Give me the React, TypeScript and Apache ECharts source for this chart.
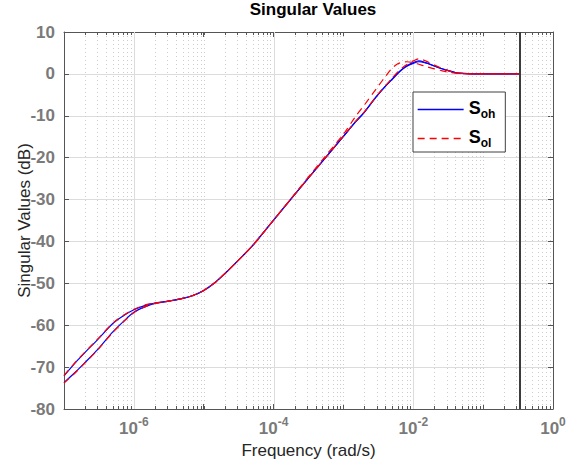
import React, { useEffect, useRef } from "react";
import * as echarts from "echarts";

// Frequency grid (rad/s) shared by every singular-value trace
const freq = [
  1e-7, 1.5e-7, 2e-7, 3e-7, 5e-7, 7e-7, 1e-6, 1.5e-6, 2e-6, 3e-6, 5e-6, 7e-6,
  1e-5, 1.5e-5, 2e-5, 3e-5, 5e-5, 1e-4, 2e-4, 5e-4, 1e-3, 1.5e-3, 2e-3, 3e-3,
  4e-3, 5e-3, 6e-3, 7e-3, 8e-3, 1e-2, 1.2e-2, 1.5e-2, 2e-2, 2.5e-2, 3e-2, 4e-2,
  5e-2, 7e-2, 0.1, 0.2, 0.326,
];

// S_oh, first and second singular value (dB)
const sohUpper = [
  -72.1, -68.7, -66.5, -63.5, -59.6, -57.8, -56.3, -55.2, -54.7, -54.3, -53.6, -52.9,
  -51.7, -49.6, -47.7, -44.8, -41.0, -34.9, -28.8, -20.9, -14.9, -11.4, -9.1, -5.3,
  -2.9, -1.2, 0.2, 1.2, 1.9, 2.7, 3.1, 2.7, 1.9, 1.3, 0.9, 0.3,
  0.1, 0.0, 0.0, 0.0, 0.0,
];
const sohLower = [
  -73.7, -71.0, -68.9, -65.9, -61.6, -59.2, -56.9, -55.5, -54.8, -54.3, -53.6, -52.9,
  -51.7, -49.6, -47.7, -44.8, -41.0, -34.9, -28.8, -20.9, -14.9, -11.4, -9.1, -5.3,
  -2.9, -1.3, 0.1, 1.1, 1.8, 2.5, 2.9, 2.6, 1.9, 1.3, 0.9, 0.3,
  0.1, 0.0, 0.0, 0.0, 0.0,
];

// S_ol, first and second singular value (dB)
const solUpper = [
  -72.0, -68.6, -66.4, -63.4, -59.5, -57.7, -56.2, -55.1, -54.7, -54.3, -53.6, -52.9,
  -51.7, -49.6, -47.7, -44.8, -41.0, -34.9, -28.8, -20.9, -14.8, -11.3, -9.0, -5.2,
  -2.8, -1.0, 0.5, 1.5, 2.2, 3.1, 3.6, 3.1, 2.1, 1.4, 0.9, 0.3,
  0.1, 0.0, 0.0, 0.0, 0.0,
];
const solLower = [
  -73.8, -71.1, -69.0, -66.0, -61.7, -59.3, -57.0, -55.5, -54.8, -54.3, -53.6, -52.9,
  -51.7, -49.6, -47.7, -44.8, -41.0, -34.9, -28.7, -20.5, -14.4, -10.1, -7.4, -3.4,
  -0.6, 1.4, 2.4, 2.8, 2.9, 2.7, 2.3, 1.8, 1.2, 0.8, 0.5, 0.2,
  0.1, 0.0, 0.0, 0.0, 0.0,
];

// Vertical marker frequency (rad/s)
const markerFreq = 0.326;

// Labelled decades on the frequency axis
const majorDecades = [1e-6, 1e-4, 1e-2];

const yTicks = { min: -80, max: 10, step: 10 };
const freqRange = { min: 1e-7, max: 1 };

const FONT = '"Liberation Sans", Arial, Helvetica, sans-serif';
const AXIS = "#555555";
const LABEL = "#7a7a7a";
const BLUE = "#0000ff";
const RED = "#ff0000";

function pairs(ys: number[]) {
  return freq.map((f, i) => [f, ys[i]]);
}

// minor log grid: 2..9 x 10^n plus the unlabelled odd decades
function minorPositions() {
  const out: number[] = [];
  for (let n = -7; n <= -1; n++) {
    for (let k = 1; k <= 9; k++) {
      if (k === 1 && (n % 2 === 0 || n === -7)) continue;
      out.push(k * Math.pow(10, n));
    }
  }
  return out;
}

export default function App() {
  const ref = useRef<HTMLDivElement>(null);

  useEffect(() => {
    if (!ref.current) return;
    const chart = echarts.init(ref.current, undefined, { renderer: "svg" });
    const minors = minorPositions();

    const xLabelRich = {
      b: { fontSize: 17, lineHeight: 16, fontWeight: "bold", color: LABEL, fontFamily: FONT, verticalAlign: "bottom" },
      e: { fontSize: 12, lineHeight: 12, fontWeight: "bold", color: LABEL, fontFamily: FONT, verticalAlign: "bottom", padding: [0, 0, 9, 0] },
    };

    const option: any = {
      animation: false,
      backgroundColor: "#ffffff",
      title: {
        text: "Singular Values",
        left: 308,
        top: -4,
        textAlign: "center",
        textStyle: { fontSize: 17, fontWeight: "bold", color: "#000", fontFamily: FONT },
      },
      grid: { left: 64, right: 33, top: 32, bottom: 59 },
      legend: {
        orient: "vertical",
        left: 413,
        top: 92,
        padding: [7, 10, 3, 4],
        itemGap: 8,
        itemWidth: 46,
        itemHeight: 2,
        itemStyle: { opacity: 0 },
        borderColor: "#404040",
        borderWidth: 1,
        backgroundColor: "#fff",
        data: [
          { name: "S_oh", lineStyle: { color: BLUE, width: 1.3 } },
          { name: "S_ol", lineStyle: { color: RED, width: 1.3, type: [7, 5] } },
        ],
        formatter: (name: string) =>
          name === "S_oh" ? "{s|S}{sub|oh}" : "{s|S}{sub|ol}",
        textStyle: {
          rich: {
            s: { fontSize: 18, fontWeight: "bold", color: "#000", fontFamily: FONT, verticalAlign: "top" },
            sub: { fontSize: 12, fontWeight: "bold", color: "#000", fontFamily: FONT, verticalAlign: "top", padding: [9, 0, 0, 0] },
          },
        },
      },
      xAxis: [
        {
          type: "log",
          logBase: 10,
          min: freqRange.min,
          max: freqRange.max,
          name: "Frequency (rad/s)",
          nameLocation: "middle",
          nameGap: 34,
          nameMoveOverlap: false,
          nameTextStyle: { fontSize: 17, lineHeight: 15, color: "#262626", fontFamily: FONT },
          axisLine: { show: true, onZero: false, lineStyle: { color: AXIS, width: 1 } },
          axisTick: { show: true, inside: true, length: 5, lineStyle: { color: AXIS } },
          axisLabel: {
            margin: 12,
            showMinLabel: false,
            formatter: (v: number) => {
              const e = Math.round(Math.log10(v));
              if (e % 2 !== 0) return "";
              return `{b|10}{e|${e}}`;
            },
            rich: xLabelRich,
          },
          splitLine: { show: false },
        },
        {
          type: "log",
          logBase: 10,
          position: "top",
          min: freqRange.min,
          max: freqRange.max,
          axisLine: { show: true, onZero: false, lineStyle: { color: AXIS, width: 1 } },
          axisTick: { show: true, inside: true, length: 5, lineStyle: { color: AXIS } },
          axisLabel: { show: false },
          splitLine: { show: false },
        },
      ],
      yAxis: [
        {
          type: "value",
          min: yTicks.min,
          max: yTicks.max,
          interval: yTicks.step,
          name: "Singular Values (dB)",
          nameLocation: "middle",
          nameGap: 31,
          nameMoveOverlap: false,
          nameTextStyle: { fontSize: 17, color: "#262626", fontFamily: FONT },
          axisLine: { show: true, onZero: false, lineStyle: { color: AXIS, width: 1 } },
          axisTick: { show: true, inside: true, length: 5, lineStyle: { color: AXIS } },
          axisLabel: {
            margin: 9,
            fontSize: 17,
            fontWeight: "bold",
            color: LABEL,
            fontFamily: FONT,
          },
          splitLine: { show: true, lineStyle: { color: "#dcdcdc", width: 1 } },
        },
        {
          type: "value",
          position: "right",
          min: yTicks.min,
          max: yTicks.max,
          interval: yTicks.step,
          axisLine: { show: true, onZero: false, lineStyle: { color: AXIS, width: 1 } },
          axisTick: { show: true, inside: true, length: 5, lineStyle: { color: AXIS } },
          axisLabel: { show: false },
          splitLine: { show: false },
        },
      ],
      series: [
        {
          // dotted minor grid with short ticks on the bottom and top edges
          name: "minorGrid",
          type: "custom",
          silent: true,
          z: 1,
          data: minors.map((v) => [v, yTicks.min]),
          encode: { x: 0, y: 1 },
          renderItem: (_params: any, api: any) => {
            const x = Math.round(api.coord([api.value(0), yTicks.min])[0]) + 0.5;
            const yb = api.coord([api.value(0), yTicks.min])[1];
            const yt = api.coord([api.value(0), yTicks.max])[1];
            return {
              type: "group",
              children: [
                {
                  type: "line",
                  shape: { x1: x, y1: yb, x2: x, y2: yt },
                  style: { stroke: "#cdcdcd", lineWidth: 1, lineDash: [1, 3] },
                },
                {
                  type: "line",
                  shape: { x1: x, y1: yb, x2: x, y2: yb - 3 },
                  style: { stroke: AXIS, lineWidth: 1 },
                },
                {
                  type: "line",
                  shape: { x1: x, y1: yt, x2: x, y2: yt + 3 },
                  style: { stroke: AXIS, lineWidth: 1 },
                },
              ],
            };
          },
        },
        {
          // solid grid at the labelled decades
          name: "majorGrid",
          type: "custom",
          silent: true,
          z: 1,
          data: majorDecades.map((v) => [v, yTicks.min]),
          encode: { x: 0, y: 1 },
          renderItem: (_params: any, api: any) => {
            const x = Math.round(api.coord([api.value(0), yTicks.min])[0]) + 0.5;
            const yb = api.coord([api.value(0), yTicks.min])[1];
            const yt = api.coord([api.value(0), yTicks.max])[1];
            return {
              type: "line",
              shape: { x1: x, y1: yb, x2: x, y2: yt },
              style: { stroke: "#dcdcdc", lineWidth: 1 },
            };
          },
        },
        {
          name: "S_oh",
          type: "line",
          data: pairs(sohUpper),
          showSymbol: false,
          symbol: "none",
          smooth: 0.3,
          lineStyle: { color: BLUE, width: 1.2 },
          itemStyle: { color: BLUE },
          z: 3,
        },
        {
          name: "S_oh",
          type: "line",
          data: pairs(sohLower),
          showSymbol: false,
          symbol: "none",
          smooth: 0.3,
          lineStyle: { color: BLUE, width: 1.2 },
          itemStyle: { color: BLUE },
          z: 3,
        },
        {
          name: "S_ol",
          type: "line",
          data: pairs(solUpper),
          showSymbol: false,
          symbol: "none",
          smooth: 0.3,
          lineStyle: { color: RED, width: 1.2, type: [7, 5] },
          itemStyle: { color: RED },
          z: 4,
        },
        {
          name: "S_ol",
          type: "line",
          data: pairs(solLower),
          showSymbol: false,
          symbol: "none",
          smooth: 0.3,
          lineStyle: { color: RED, width: 1.2, type: [7, 5] },
          itemStyle: { color: RED },
          z: 4,
          markLine: {
            silent: true,
            symbol: ["none", "none"],
            label: { show: false },
            lineStyle: { color: "#3c3c3c", width: 2, type: "solid" },
            data: [{ xAxis: markerFreq }],
          },
        },
      ],
    };

    chart.setOption(option);
    return () => chart.dispose();
  }, []);

  return (
    <div
      ref={ref}
      style={{ position: "fixed", left: 0, top: 0, width: 586, height: 468, background: "#fff" }}
    />
  );
}
